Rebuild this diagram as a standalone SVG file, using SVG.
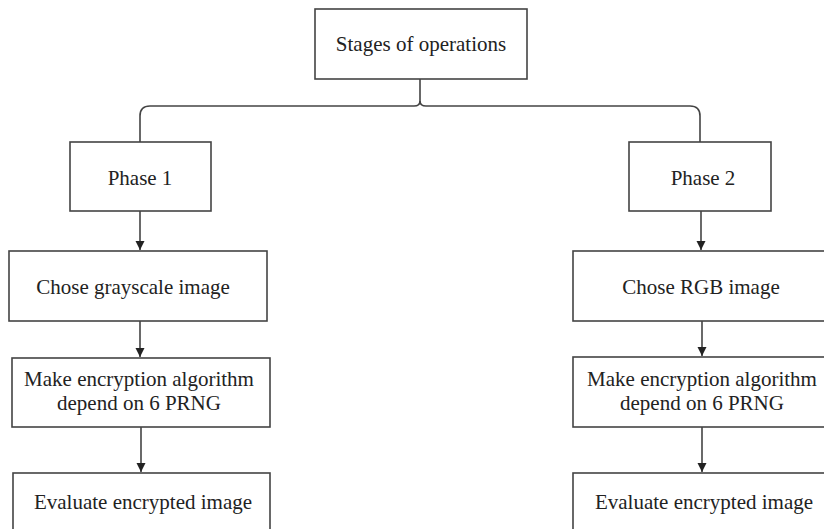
<svg xmlns="http://www.w3.org/2000/svg" width="824" height="529" viewBox="0 0 824 529">
<style>
.box{fill:#fff;stroke:#444;stroke-width:1.6}
.t{font-family:"Liberation Serif","Times New Roman",serif;font-size:21px;fill:#222;text-anchor:middle}
.c{fill:none;stroke:#444;stroke-width:1.6}
</style>
<defs>
<marker id="ah" markerWidth="10" markerHeight="10" refX="9" refY="5" orient="auto" markerUnits="userSpaceOnUse">
<path d="M0,0.5 L9,5 L0,9.5 Z" fill="#222"/>
</marker>
</defs>
<rect width="824" height="529" fill="#fff"/>
<g id="connectors">
<path class="c" d="M420,79 V101 Q420,106 414,106 H150 Q140,106 140,116 V142"/>
<path class="c" d="M420,101 Q420,106 426,106 H690 Q700,106 700,116 V142"/>
<line class="c" x1="140" y1="211" x2="140" y2="250" marker-end="url(#ah)"/>
<line class="c" x1="140" y1="321" x2="140" y2="357" marker-end="url(#ah)"/>
<line class="c" x1="141" y1="427" x2="141" y2="472" marker-end="url(#ah)"/>
<line class="c" x1="701" y1="211" x2="701" y2="250" marker-end="url(#ah)"/>
<line class="c" x1="702" y1="321" x2="702" y2="356" marker-end="url(#ah)"/>
<line class="c" x1="702" y1="427" x2="702" y2="472" marker-end="url(#ah)"/>
</g>
<g id="stages"><rect class="box" x="315" y="9" width="212" height="70"/><text class="t" x="421" y="51">Stages of operations</text></g>
<g id="phase1"><rect class="box" x="70" y="142" width="141" height="69"/><text class="t" x="140" y="185">Phase 1</text></g>
<g id="phase2"><rect class="box" x="629" y="142" width="142" height="69"/><text class="t" x="703" y="185">Phase 2</text></g>
<g id="gray"><rect class="box" x="9" y="251" width="258" height="70"/><text class="t" x="133" y="294">Chose grayscale image</text></g>
<g id="rgb"><rect class="box" x="573" y="251" width="260" height="70"/><text class="t" x="701" y="294">Chose RGB image</text></g>
<g id="enc1"><rect class="box" x="12" y="358" width="258" height="69"/><text class="t" x="139" y="386">Make encryption algorithm</text><text class="t" x="139" y="410">depend on 6 PRNG</text></g>
<g id="enc2"><rect class="box" x="573" y="357" width="260" height="70"/><text class="t" x="702" y="386">Make encryption algorithm</text><text class="t" x="702" y="410">depend on 6 PRNG</text></g>
<g id="eval1"><rect class="box" x="13" y="473" width="257" height="70"/><text class="t" x="143" y="509">Evaluate encrypted image</text></g>
<g id="eval2"><rect class="box" x="573" y="473" width="260" height="70"/><text class="t" x="704" y="509">Evaluate encrypted image</text></g>
</svg>
